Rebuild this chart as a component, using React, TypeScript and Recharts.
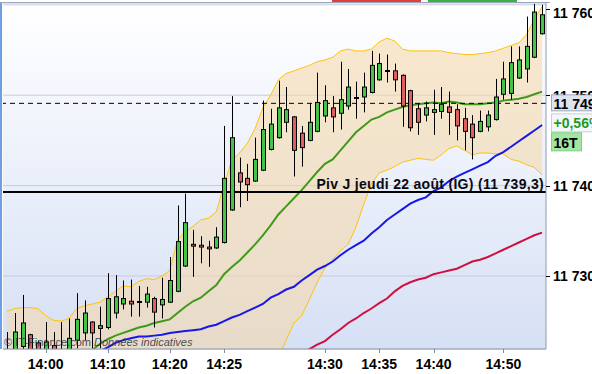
import React from 'react';
import { ComposedChart, Bar, Line, Area, XAxis, YAxis, CartesianGrid, ReferenceLine } from 'recharts';

const FONT = '"Liberation Sans", Arial, sans-serif';
const Y_MIN = 11721.92;
const Y_MAX = 11760.2;
const Y_TICKS = [11730, 11740, 11750, 11760];
const PLOT_TOP = 3;
const PLOT_H = 346;

const PIVOT = 11739.3;
const PIVOT_TEXT = 'Piv J jeudi 22 août (IG)';
const LAST = 11749.1;
const CHANGE = '+0,56%';
const PERIOD = '16T';

// candle index -> time label (16-tick bars, not minutes)
const tickIndex = [5, 13, 21, 28, 41, 48, 55, 64];
const tickText = ['14:00', '14:10', '14:20', '14:25', '14:30', '14:35', '14:40', '14:50'];

const openPrices = [
  11720.7, 11721.3, 11722.2, 11723.5, 11722.6, 11721.5, 11722.3, 11721.0, 11721.5, 11722.9,
  11723.7, 11724.9, 11724.2, 11724.3, 11725.9, 11726.9, 11727.2, 11727.1, 11727.1, 11727.5,
  11726.8, 11727.1, 11728.3, 11731.1, 11733.5, 11733.4, 11733.2, 11733.1, 11733.7, 11737.3,
  11741.4, 11740.8, 11740.5, 11741.7, 11744.0, 11745.3, 11747.0, 11747.6, 11745.8, 11745.0,
  11746.0, 11747.7, 11748.6, 11748.0, 11748.8, 11749.7, 11749.8, 11750.3, 11751.7, 11752.7,
  11752.7, 11752.2, 11750.5, 11748.5, 11747.8, 11748.1, 11748.2, 11748.7, 11748.4, 11747.4,
  11746.8, 11746.0, 11746.5, 11747.3, 11750.1, 11750.2, 11751.9, 11752.9, 11754.2, 11756.8,
];
const highPrices = [
  11723.8, 11725.9, 11727.9, 11723.6, 11722.8, 11724.9, 11723.8, 11724.9, 11725.3, 11728.1,
  11727.3, 11725.0, 11726.6, 11730.3, 11730.1, 11729.5, 11729.6, 11728.9, 11728.8, 11727.7,
  11729.8, 11732.1, 11737.8, 11739.1, 11735.1, 11734.4, 11733.9, 11735.4, 11746.6, 11749.9,
  11743.1, 11742.4, 11745.3, 11749.4, 11748.5, 11751.6, 11750.9, 11747.7, 11746.6, 11749.1,
  11752.5, 11751.1, 11749.9, 11753.7, 11752.9, 11751.5, 11752.5, 11754.9, 11754.6, 11754.5,
  11753.5, 11752.3, 11750.6, 11749.1, 11749.3, 11750.6, 11750.9, 11750.4, 11749.0, 11748.6,
  11747.8, 11748.3, 11748.3, 11751.8, 11753.7, 11755.4, 11755.4, 11758.7, 11760.1, 11760.0,
];
const lowPrices = [
  11720.4, 11720.8, 11721.4, 11721.0, 11721.2, 11721.0, 11721.2, 11720.5, 11721.2, 11722.0,
  11722.9, 11722.0, 11722.0, 11724.1, 11725.3, 11726.3, 11725.5, 11725.5, 11726.5, 11724.3,
  11725.3, 11727.0, 11728.2, 11731.0, 11729.9, 11731.4, 11731.0, 11733.0, 11733.6, 11737.2,
  11737.6, 11738.3, 11740.4, 11741.6, 11743.9, 11745.2, 11745.9, 11741.0, 11742.1, 11744.9,
  11745.9, 11747.0, 11745.9, 11746.2, 11748.4, 11747.4, 11748.1, 11750.2, 11751.6, 11751.4,
  11750.4, 11746.5, 11746.0, 11745.6, 11747.1, 11745.6, 11747.4, 11745.6, 11745.0, 11743.9,
  11742.9, 11745.9, 11746.0, 11747.2, 11749.5, 11749.5, 11751.8, 11751.4, 11754.1, 11756.7,
];
const closePrices = [
  11721.6, 11723.8, 11724.8, 11721.6, 11721.8, 11722.7, 11721.7, 11721.6, 11723.1, 11725.2,
  11725.9, 11723.7, 11724.5, 11727.5, 11727.7, 11727.5, 11726.9, 11727.1, 11728.0, 11726.0,
  11727.4, 11729.5, 11733.8, 11735.9, 11733.3, 11733.2, 11733.0, 11734.3, 11740.8, 11745.3,
  11740.4, 11740.1, 11742.9, 11746.2, 11746.8, 11748.6, 11748.4, 11743.9, 11744.2, 11747.0,
  11749.2, 11749.4, 11747.6, 11749.5, 11750.9, 11749.7, 11750.9, 11753.3, 11753.5, 11752.7,
  11751.7, 11748.8, 11746.4, 11747.0, 11748.6, 11748.4, 11749.0, 11748.1, 11746.6, 11746.0,
  11745.3, 11747.1, 11747.8, 11749.8, 11751.8, 11753.6, 11753.9, 11755.4, 11759.2, 11758.9,
];

// values below the visible window are not readable: left empty
const hidden = (n: number): (number | null)[] => Array(n).fill(null);

const upperBand: (number | null)[] = [
  11726.1, 11726.4, 11726.5, 11726.5, 11726.4, 11725.6, 11725.1, 11725.0, 11725.3, 11726.4,
  11726.7, 11726.9, 11727.1, 11727.7, 11728.3, 11728.9, 11728.8, 11729.4, 11729.7, 11729.6,
  11730.0, 11730.6, 11734.0, 11734.9, 11735.5, 11736.2, 11736.4, 11737.1, 11740.1, 11742.8,
  11743.6, 11744.7, 11746.3, 11748.6, 11750.0, 11751.7, 11752.4, 11752.7, 11753.0, 11753.3,
  11753.7, 11753.9, 11754.2, 11754.9, 11755.1, 11754.9, 11754.9, 11755.1, 11755.9, 11756.3,
  11756.0, 11755.1, 11754.9, 11754.9, 11754.9, 11754.9, 11754.9, 11754.7, 11754.6, 11754.5,
  11754.5, 11754.6, 11754.7, 11754.9, 11755.2, 11755.5, 11755.8, 11756.7, 11758.4, 11759.8,
];
const lowerBand: (number | null)[] = [
  ...hidden(34),
  11720.2, 11721.0, 11722.9, 11724.8, 11725.6, 11727.4,
  11729.3, 11730.9, 11731.8, 11732.8, 11733.5, 11735.4, 11737.9, 11740.2, 11741.4, 11741.7,
  11742.1, 11742.6, 11742.8, 11743.0, 11742.9, 11742.8, 11743.4, 11744.1, 11744.4, 11743.9,
  11743.4, 11743.6, 11743.6, 11743.5, 11743.5, 11742.9, 11742.7, 11742.3, 11742.0, 11741.2,
];
const midBand: (number | null)[] = [
  ...hidden(10),
  11721.2, 11721.8, 11722.5, 11723.0, 11723.4, 11723.7, 11724.0, 11724.3, 11724.5, 11724.8,
  11725.0, 11725.2, 11725.9, 11726.6, 11727.2, 11727.6, 11728.3, 11729.0, 11730.2, 11731.0,
  11731.7, 11732.6, 11733.5, 11734.5, 11735.6, 11736.8, 11737.7, 11738.6, 11739.5, 11740.5,
  11741.5, 11742.4, 11742.9, 11743.9, 11744.9, 11745.9, 11746.6, 11747.3, 11747.6, 11748.1,
  11748.4, 11748.7, 11748.9, 11749.0, 11749.1, 11749.2, 11749.1, 11749.3, 11749.2, 11749.0,
  11749.0, 11749.0, 11749.1, 11749.2, 11749.4, 11749.5, 11749.6, 11749.8, 11750.1, 11750.4,
];
const blueMa: (number | null)[] = [
  ...hidden(11),
  11721.2, 11721.7, 11722.1, 11722.6, 11722.9, 11723.1, 11723.3, 11723.3, 11723.4,
  11723.5, 11723.7, 11723.8, 11723.9, 11724.0, 11724.1, 11724.4, 11724.6, 11725.0, 11725.4,
  11725.7, 11726.1, 11726.5, 11726.9, 11727.6, 11728.0, 11728.5, 11728.8, 11729.5, 11730.1,
  11730.7, 11731.1, 11731.6, 11732.3, 11732.9, 11733.4, 11733.9, 11734.7, 11735.4, 11736.2,
  11736.8, 11737.4, 11738.0, 11738.4, 11738.7, 11739.4, 11739.8, 11740.5, 11741.0, 11741.4,
  11741.8, 11742.2, 11742.6, 11743.3, 11743.7, 11744.3, 11744.9, 11745.5, 11746.1, 11746.7,
];
const redMa: (number | null)[] = [
  ...hidden(37),
  11720.5, 11721.3, 11721.9,
  11722.4, 11722.8, 11723.5, 11724.1, 11724.8, 11725.3, 11725.9, 11726.4, 11727.0, 11727.5,
  11728.3, 11728.9, 11729.3, 11729.6, 11729.8, 11730.2, 11730.4, 11730.6, 11730.8, 11731.2,
  11731.6, 11731.8, 11732.1, 11732.5, 11732.9, 11733.3, 11733.7, 11734.1, 11734.5, 11734.8,
];

const rows = openPrices.map((open, i) => ({
  i,
  open,
  high: highPrices[i],
  low: lowPrices[i],
  close: closePrices[i],
  upper: upperBand[i],
  lower: lowerBand[i],
  mid: midBand[i],
  blue: blueMa[i],
  red: redMa[i],
  band: [lowerBand[i] ?? Y_MIN - 5, upperBand[i]],
}));

const fmtPrice = (v: number) => {
  const s = Math.round(v).toString();
  return s.slice(0, -3) + ' ' + s.slice(-3);
};
const fmtPivot = (v: number) => {
  const s = v.toFixed(1).replace('.', ',');
  return s.slice(0, 2) + ' ' + s.slice(2);
};

// top of the last-price tag stack, so axis labels underneath can be hidden
const TAG_TOP = PLOT_TOP + ((Y_MAX - LAST) / (Y_MAX - Y_MIN)) * PLOT_H - 8.5;
const TAG_BOTTOM = TAG_TOP + 57;

function Candle(props: any) {
  const { x, y, width, height, payload } = props;
  if (!payload) return null;
  const { open, close, high, low } = payload;
  const top = Math.min(y, y + height);
  const h = Math.abs(height);
  const k = h / (high - low);
  const py = (v: number) => top + (high - v) * k;
  const cx = Math.round(x + width / 2);
  const bTop = py(Math.max(open, close));
  const bBot = py(Math.min(open, close));
  const flat = Math.abs(close - open) < 0.05;
  return (
    <g>
      <line x1={cx + 0.5} x2={cx + 0.5} y1={top} y2={top + h} stroke="#000" strokeWidth={1} />
      {flat ? (
        <rect x={cx - 2} y={Math.round(bTop) - 1} width={5} height={2} fill="#000" />
      ) : (
        <rect
          x={cx - 1.5}
          y={bTop}
          width={4}
          height={Math.max(bBot - bTop, 1)}
          fill={close > open ? '#44c444' : '#df5f5f'}
          stroke="#000"
          strokeWidth={1}
        />
      )}
    </g>
  );
}

function TimeTick(props: any) {
  const { x, y, payload } = props;
  const k = tickIndex.indexOf(payload.value);
  if (k < 0) return <g />;
  return (
    <g>
      <line x1={Math.round(x) + 0.5} x2={Math.round(x) + 0.5} y1={y} y2={y + 4} stroke="#7f8ea8" />
      <text x={x} y={y + 19.5} textAnchor="middle" fontSize={14} fontWeight="bold" fill="#000" fontFamily={FONT}>
        {tickText[k]}
      </text>
    </g>
  );
}

function PriceTick(props: any) {
  const { x, y, payload } = props;
  const ty = Math.max(y, 12);
  const covered = ty + 6 > TAG_TOP && ty - 10 < TAG_BOTTOM;
  return (
    <g>
      <line x1={x} x2={x + 4} y1={Math.round(y) + 0.5} y2={Math.round(y) + 0.5} stroke="#000" />
      {covered && (
        <clipPath id={`tagClip${payload.value}`}>
          <rect x={0} y={0} width={600} height={TAG_TOP} />
        </clipPath>
      )}
      <text
        x={x + 7}
        y={ty + 5.5}
        fontSize={14}
        fontWeight="bold"
        fill="#000"
        fontFamily={FONT}
        clipPath={covered ? `url(#tagClip${payload.value})` : undefined}
      >
        {fmtPrice(payload.value)}
      </text>
    </g>
  );
}

function LastTag(props: any) {
  const { viewBox } = props;
  if (!viewBox) return null;
  const left = viewBox.x + viewBox.width + 5;
  const y = viewBox.y;
  return (
    <g fontFamily={FONT} fontWeight="bold" fontSize={14}>
      <rect x={left + 0.5} y={y - 8.5} width={60} height={16} fill="#dde4f0" stroke="#98a8c2" />
      <text x={left + 2.5} y={y + 6} fill="#000">{fmtPrice(LAST)}</text>
      <rect x={left + 0.5} y={y + 10.5} width={60} height={18} fill="#f3f6fb" stroke="#c8d0de" />
      <text x={left + 2.5} y={y + 24.5} fill="#1f9a1f">{CHANGE}</text>
      <rect x={left + 0.5} y={y + 29.5} width={30} height={18} fill="#a3e6a3" stroke="#7fcf7f" />
      <text x={left + 2.5} y={y + 44.5} fill="#000">{PERIOD}</text>
    </g>
  );
}

function PivotTag(props: any) {
  const { viewBox } = props;
  if (!viewBox) return null;
  return (
    <text
      x={viewBox.x + viewBox.width - 2}
      y={viewBox.y - 3}
      textAnchor="end"
      fontSize={14}
      letterSpacing={0.3}
      fontWeight="bold"
      fill="#0a0a14"
      fontFamily={FONT}
    >
      {`${PIVOT_TEXT} (${fmtPivot(PIVOT)})`}
    </text>
  );
}

export default function App() {
  return (
    <div style={{ position: 'absolute', left: 0, top: 0, width: 592, height: 374, background: '#fff', overflow: 'hidden', fontFamily: FONT }}>
      <ComposedChart width={592} height={374} data={rows} margin={{ top: PLOT_TOP, right: 0, bottom: 0, left: 3 }}>
        <defs>
          <linearGradient id="plotBg" x1="0" y1="0" x2="0" y2="1">
            <stop offset="0%" stopColor="#ffffff" />
            <stop offset="100%" stopColor="#d6e0f5" />
          </linearGradient>
        </defs>
        <CartesianGrid vertical={false} stroke="#c6cbdb" fill="url(#plotBg)" />
        <XAxis
          dataKey="i"
          height={25}
          interval={0}
          tickSize={0}
          tickMargin={0}
          tick={<TimeTick />}
          axisLine={{ stroke: '#8d9bb3' }}
        />
        <YAxis
          orientation="right"
          width={46}
          domain={[Y_MIN, Y_MAX]}
          ticks={Y_TICKS}
          allowDataOverflow
          tickSize={0}
          tickMargin={0}
          tick={<PriceTick />}
          axisLine={{ stroke: '#8d9bb3' }}
        />
        <Area dataKey="band" fill="#f5d7a6" fillOpacity={0.55} stroke="none" isAnimationActive={false} />
        <Line dataKey="upper" stroke="#ffc20e" strokeWidth={1} dot={false} isAnimationActive={false} />
        <Line dataKey="lower" stroke="#ffc20e" strokeWidth={1} dot={false} isAnimationActive={false} />
        <Line dataKey="mid" stroke="#3f9a18" strokeWidth={2} dot={false} isAnimationActive={false} />
        <Line dataKey="blue" stroke="#1818e6" strokeWidth={2} dot={false} isAnimationActive={false} />
        <Line dataKey="red" stroke="#cf1040" strokeWidth={2} dot={false} isAnimationActive={false} />
        <ReferenceLine y={PIVOT} stroke="#000" strokeWidth={2} label={<PivotTag />} />
        <ReferenceLine y={LAST} stroke="#000" strokeDasharray="5 4" label={<LastTag />} />
        <Bar
          dataKey={(d: any) => [d.low, d.high]}
          barSize={6}
          shape={(p: any) => <Candle {...p} />}
          isAnimationActive={false}
          zIndex={450}
        />
      </ComposedChart>
      <div style={{ position: 'absolute', left: 0, top: 2, width: 550, height: 1, background: '#9aa6bb' }} />
      <div style={{ position: 'absolute', left: 0, top: 3, width: 2, height: 346, background: '#6f9fe3' }} />
      <div style={{ position: 'absolute', left: 332, top: 0, width: 89, height: 2, background: '#e03c3c' }} />
      <div style={{ position: 'absolute', left: 428, top: 0, width: 89, height: 2, background: '#3cb043' }} />
      <div
        style={{
          position: 'absolute',
          left: 4,
          top: 336,
          fontSize: 11,
          lineHeight: '13px',
          whiteSpace: 'nowrap',
          color: 'rgba(40,45,60,0.85)',
        }}
      >
        © IT-Finance.com <i>Données indicatives</i>
      </div>
    </div>
  );
}
